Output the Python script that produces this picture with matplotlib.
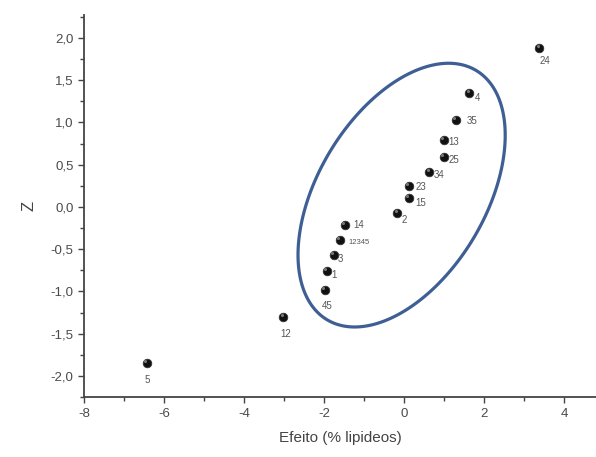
import numpy as np
import matplotlib.pyplot as plt
from matplotlib.patches import Polygon
from matplotlib.ticker import MultipleLocator, FuncFormatter

plt.rcParams['font.family'] = ['Liberation Sans', 'DejaVu Sans']

# --- data ---
labels = ['5', '12', '45', '1', '3', '12345', '14', '2', '15', '23',
          '34', '25', '13', '35', '4', '24']
efeito = [-6.43, -3.02, -1.98, -1.93, -1.76, -1.60, -1.48, -0.17, 0.12, 0.12,
          0.63, 1.00, 1.00, 1.30, 1.63, 3.38]
z = [-1.85, -1.30, -0.98, -0.76, -0.57, -0.39, -0.21, -0.07, 0.11, 0.25,
     0.41, 0.59, 0.79, 1.03, 1.35, 1.88]

# where each label sits relative to its point (offset points)
label_offset = {
    '5': (-2, -12), '12': (-2, -12), '45': (-2, -12), '24': (0, -9),
    '1': (3, -3), '3': (3, -3), '12345': (6, -2), '14': (6, 0),
    '2': (3, -5), '15': (5, -4), '23': (5, -1), '34': (3, -2),
    '25': (3, -2), '13': (3, -1), '35': (8, -1), '4': (4, -4),
}

# ellipse drawn around the central group
ell_cx, ell_cy = -0.06, 0.14
ell_wx, ell_wy = 2.59, 1.56
ell_phase = 1.1

fig = plt.figure(figsize=(5.96, 4.57), dpi=100)
ax = fig.add_axes([0.141, 0.131, 0.859, 0.836])

# closed outline so there is no visible seam
t = np.linspace(0, 2 * np.pi, 400, endpoint=False)
ell_pts = np.column_stack([ell_cx + ell_wx * np.cos(t),
                           ell_cy + ell_wy * np.cos(t - ell_phase)])
ax.add_patch(Polygon(ell_pts, closed=True, fill=False, edgecolor='#3f5f94',
                     lw=2.3, joinstyle='round', zorder=2))

ax.scatter(efeito, z, s=38, color='#111111', edgecolors='#333333',
           linewidths=0.6, zorder=3)
ax.scatter(np.array(efeito) - 0.04, np.array(z) + 0.025, s=5,
           color='#777777', linewidths=0, zorder=4)

for lab, xv, yv in zip(labels, efeito, z):
    dx, dy = label_offset[lab]
    fs = 5.5 if lab == '12345' else 7
    ax.annotate(lab, (xv, yv), xytext=(dx, dy), textcoords='offset points',
                fontsize=fs, color='#555555', ha='left', va='center')

ax.set_xlim(-8, 4.8)
ax.set_ylim(-2.25, 2.27)

ax.xaxis.set_major_locator(MultipleLocator(2))
ax.xaxis.set_minor_locator(MultipleLocator(1))
ax.yaxis.set_major_locator(MultipleLocator(0.5))
ax.yaxis.set_minor_locator(MultipleLocator(0.25))
ax.yaxis.set_major_formatter(FuncFormatter(lambda v, p: f'{v:.1f}'.replace('.', ',')))
ax.xaxis.set_major_formatter(FuncFormatter(lambda v, p: f'{v:.0f}'))

for s in ['top', 'right']:
    ax.spines[s].set_visible(False)
for s in ['left', 'bottom']:
    ax.spines[s].set_color('#444444')
    ax.spines[s].set_linewidth(1.3)

ax.tick_params(which='major', length=4, width=1, color='#444444',
               labelsize=9.5, labelcolor='#4a4a4a')
ax.tick_params(which='minor', length=3, width=1, color='#444444')

ax.set_xlabel('Efeito (% lipideos)', fontsize=11, color='#444444', labelpad=8)
ax.set_ylabel('Z', fontsize=12, color='#444444', labelpad=10)

fig.savefig('out.png', dpi=100)
